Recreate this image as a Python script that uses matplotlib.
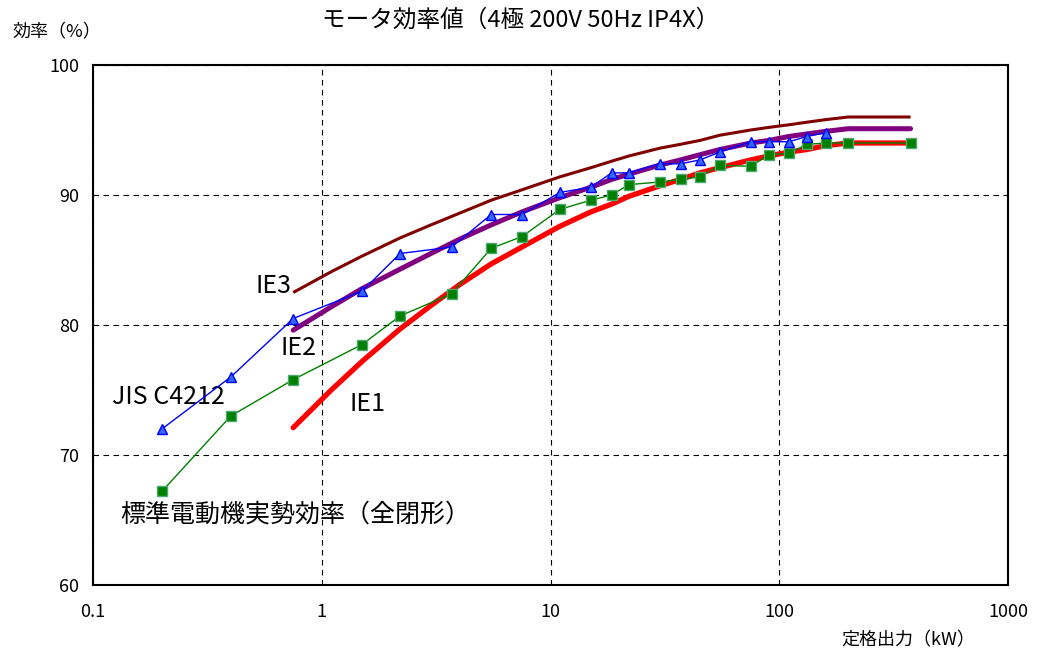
import matplotlib
matplotlib.use("Agg")
import matplotlib.pyplot as plt
import matplotlib.ticker as ticker

plt.rcParams["font.family"] = ["Noto Sans CJK JP", "DejaVu Sans"]

# ── Data ──────────────────────────────────────────────────────────────────────
KW_JIS = [0.2, 0.4, 0.75, 1.5, 2.2, 3.7, 5.5, 7.5, 11, 15, 18.5, 22, 30, 37,
          45, 55, 75, 90, 110, 132, 160]
JIS_C4212 = [72.0, 76.0, 80.5, 82.6, 85.5, 86.0, 88.5, 88.5, 90.2, 90.6, 91.7,
             91.7, 92.4, 92.4, 92.7, 93.3, 94.1, 94.1, 94.1, 94.5, 94.8]

KW_STD = [0.2, 0.4, 0.75, 1.5, 2.2, 3.7, 5.5, 7.5, 11, 15, 18.5, 22, 30, 37,
          45, 55, 75, 90, 110, 132, 160, 200, 375]
STD_ACTUAL = [67.2, 73.0, 75.8, 78.5, 80.7, 82.4, 85.9, 86.8, 88.9, 89.6, 90.0,
              90.8, 91.0, 91.2, 91.4, 92.3, 92.2, 93.1, 93.2, 93.9, 94.0, 94.0, 94.0]

KW_IE = [0.75, 1.1, 1.5, 2.2, 3, 4, 5.5, 7.5, 11, 15, 18.5, 22, 30, 37, 45,
         55, 75, 90, 110, 132, 160, 200, 375]
IE1 = [72.1, 75.0, 77.2, 79.7, 81.5, 83.1, 84.7, 86.0, 87.6, 88.7, 89.3, 89.9,
       90.7, 91.2, 91.7, 92.1, 92.7, 93.0, 93.3, 93.5, 93.8, 94.0, 94.0]
IE2 = [79.6, 81.4, 82.8, 84.3, 85.5, 86.6, 87.7, 88.7, 89.8, 90.6, 91.2, 91.6,
       92.3, 92.7, 93.1, 93.5, 94.0, 94.2, 94.5, 94.7, 94.9, 95.1, 95.1]
IE3 = [82.5, 84.1, 85.3, 86.7, 87.7, 88.6, 89.6, 90.4, 91.4, 92.1, 92.6, 93.0,
       93.6, 93.9, 94.2, 94.6, 95.0, 95.2, 95.4, 95.6, 95.8, 96.0, 96.0]

X_TICKS = [0.1, 1, 10, 100, 1000]
X_TICK_LABELS = ["0.1", "1", "10", "100", "1000"]
Y_TICKS = [60, 70, 80, 90, 100]

# ── Figure ────────────────────────────────────────────────────────────────────
fig = plt.figure(figsize=(10.42, 6.54), dpi=100)
ax = fig.add_axes([0.0893, 0.1055, 0.8781, 0.7951])

ax.plot(KW_IE, IE3, color="#800000", linewidth=2.2, solid_capstyle="butt", zorder=3)
ax.plot(KW_IE, IE2, color="#800080", linewidth=3.6, solid_capstyle="round", zorder=3)
ax.plot(KW_IE, IE1, color="#ff0000", linewidth=3.8, solid_capstyle="round", zorder=3)
ax.plot(KW_STD, STD_ACTUAL, color="#008000", linewidth=1.0, marker="s", markersize=6.5,
        markerfacecolor="#008000", markeredgecolor="#4fa870", markeredgewidth=1.0, zorder=4)
ax.plot(KW_JIS, JIS_C4212, color="#0000ff", linewidth=1.0, marker="^", markersize=7,
        markerfacecolor="#3366ff", markeredgecolor="#0000ff", markeredgewidth=1.0, zorder=5)

ax.set_xscale("log")
ax.set_xlim(0.1, 1000)
ax.set_ylim(60, 100)
ax.set_xticks(X_TICKS)
ax.set_xticklabels(X_TICK_LABELS)
ax.xaxis.set_minor_locator(ticker.NullLocator())
ax.set_yticks(Y_TICKS)
ax.tick_params(length=0, labelsize=13, pad=10)
ax.tick_params(axis="x", pad=13)
ax.grid(True, color="black", linestyle=(0, (5, 4)), linewidth=0.8)
for s in ax.spines.values():
    s.set_linewidth(1.5)
    s.set_color("black")

# ── Labels ────────────────────────────────────────────────────────────────────
txt = dict(fontsize=18, color="black")
ax.text(0.74, 83.0, "IE3", ha="right", va="center", **txt)
ax.text(0.787, 78.2, "IE2", ha="center", va="center", **txt)
ax.text(0.213, 74.5, "JIS C4212", ha="center", va="center", **txt)
ax.text(1.58, 73.9, "IE1", ha="center", va="center", **txt)
ax.text(0.131, 65.4, "標準電動機実勢効率（全閉形）", ha="left", va="center", **txt)

fig.text(0.5, 0.969, "モータ効率値（4極 200V 50Hz IP4X）", ha="center", va="center",
         fontsize=17)
fig.text(0.012, 0.951, "効率（%）", ha="left", va="center", fontsize=13)
fig.text(0.936, 0.0214, "定格出力（kW）", ha="right", va="center", fontsize=13)

fig.savefig("out.png", dpi=100)
